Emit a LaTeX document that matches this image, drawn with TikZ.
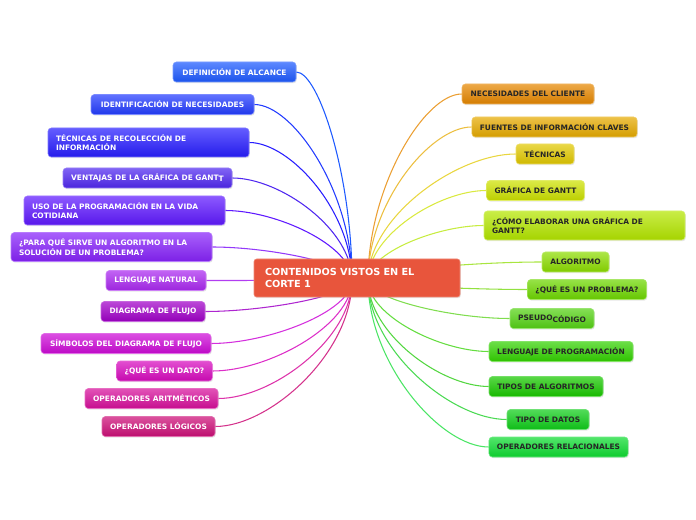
\documentclass[tikz,border=0pt]{standalone}
\usepackage{fontspec}
\setmainfont{DejaVu Sans}
\usetikzlibrary{calc,backgrounds,shadows}

% left branch colours
\definecolor{cDef}{RGB}{30,90,255}
\definecolor{cIde}{RGB}{35,60,255}
\definecolor{cTec}{RGB}{40,30,255}
\definecolor{cVen}{RGB}{80,40,240}
\definecolor{cUso}{RGB}{95,25,255}
\definecolor{cPar}{RGB}{135,35,250}
\definecolor{cLen}{RGB}{170,40,240}
\definecolor{cDia}{RGB}{160,0,200}
\definecolor{cSim}{RGB}{205,10,215}
\definecolor{cDat}{RGB}{215,10,190}
\definecolor{cAri}{RGB}{215,15,155}
\definecolor{cLog}{RGB}{205,15,120}
% right branch colours
\definecolor{cNec}{RGB}{230,135,0}
\definecolor{cFue}{RGB}{230,170,0}
\definecolor{cTcn}{RGB}{225,200,0}
\definecolor{cGan}{RGB}{205,225,0}
\definecolor{cCom}{RGB}{180,230,0}
\definecolor{cAlg}{RGB}{140,220,0}
\definecolor{cPro}{RGB}{110,215,0}
\definecolor{cPse}{RGB}{85,210,20}
\definecolor{cLpr}{RGB}{50,210,0}
\definecolor{cTal}{RGB}{25,200,0}
\definecolor{cTda}{RGB}{15,205,25}
\definecolor{cOre}{RGB}{15,220,50}
\definecolor{cMain}{RGB}{232,85,60}

\tikzset{every picture/.style={line width=0.75pt}}
\tikzset{
  box/.style={rounded corners=2.5pt, top color=#1!72!white, bottom color=#1!92!black,
    draw=#1!60!white, line width=0.4pt, inner xsep=6pt, inner ysep=0pt,
    minimum height=15pt, font=\bfseries\fontsize{5.6}{7}\selectfont,
    drop shadow={opacity=0.2, shadow xshift=0.6pt, shadow yshift=-0.9pt}},
  lbox/.style={box=#1, text=white},
  rbox/.style={box=#1, text=black!85},
  twoline/.style={minimum height=21.75pt, align=left},
  branch/.style={#1, line width=0.8pt,
    to path={.. controls ($(\tikztostart)!0.4!(\tikztostart -| \tikztotarget)$)
      and ($(\tikztotarget)!0.5!(\tikztotarget |- \tikztostart)$) .. (\tikztotarget)}}
}

\begin{document}
\begin{tikzpicture}[x=0.75pt,y=0.75pt,yscale=-1,xscale=1]
	\useasboundingbox (0,0) rectangle (696,520);
	\coordinate (lhub) at (352,280);
	\coordinate (rhub) at (368,280);

	% central topic
	\node [rounded corners=2pt, fill=cMain, draw=cMain!70!white, line width=0.5pt,
	  text=white, font=\bfseries\fontsize{7.3}{9.5}\selectfont, align=left,
	  text width=138pt, inner xsep=8.25pt, minimum height=28.5pt,
	  drop shadow={opacity=0.2, shadow xshift=0.6pt, shadow yshift=-0.9pt}]
	  (main) at (357,278) {CONTENIDOS VISTOS EN EL\\CORTE 1};

	% left side
	\node [lbox=cDef, minimum width=92.25pt] (defin) at (234.5,72) {DEFINICIÓN DE ALCANCE};
	\node [lbox=cIde, minimum width=122.25pt] (ident) at (172.5,104.5) {IDENTIFICACIÓN DE NECESIDADES};
	\node [lbox=cTec, twoline, text width=138.75pt] (tecrec) at (148.5,142.5) {TÉCNICAS DE RECOLECCIÓN DE\\INFORMACIÓN};
	\node [lbox=cVen, minimum width=126.75pt] (ventaj) at (147.5,178) {VENTAJAS DE LA GRÁFICA DE GANT\raisebox{-0.8pt}{T}};
	\node [lbox=cUso, twoline, text width=138.75pt] (usoprog) at (124.5,210.5) {USO DE LA PROGRAMACIÓN EN LA VIDA\\COTIDIANA};
	\node [lbox=cPar, twoline, text width=138.75pt] (paraque) at (111.5,247) {¿PARA QUÉ SIRVE UN ALGORITMO EN LA\\SOLUCIÓN DE UN PROBLEMA?};
	\node [lbox=cLen, minimum width=75pt] (lengnat) at (156,280.5) {LENGUAJE NATURAL};
	\node [lbox=cDia, minimum width=78pt] (diagfl) at (153,311.5) {DIAGRAMA DE FLUJO};
	\node [lbox=cSim, minimum width=127.5pt] (simbol) at (126,343.5) {SÍMBOLOS DEL DIAGRAMA DE FLUJO};
	\node [lbox=cDat, minimum width=71.25pt] (quedato) at (164.5,371) {¿QUÉ ES UN DATO?};
	\node [lbox=cAri, minimum width=99.75pt] (oparit) at (151.5,398.5) {OPERADORES ARITMÉTICOS};
	\node [lbox=cLog, minimum width=84.75pt] (oplog) at (158.5,426.5) {OPERADORES LÓGICOS};

	% right side
	\node [rbox=cNec, minimum width=99pt] (necli) at (528,94) {NECESIDADES DEL CLIENTE};
	\node [rbox=cFue, minimum width=123.75pt] (fuentes) at (554.5,127) {FUENTES DE INFORMACIÓN CLAVES};
	\node [rbox=cTcn, minimum width=43.5pt] (tecn) at (545,154) {TÉCNICAS};
	\node [rbox=cGan, minimum width=72.75pt] (gantt) at (535.5,190.5) {GRÁFICA DE GANTT};
	\node [rbox=cCom, twoline, text width=138.75pt] (comoelab) at (584.5,225.5) {¿CÓMO ELABORAR UNA GRÁFICA DE\\GANTT?};
	\node [rbox=cAlg, minimum width=50.25pt] (algor) at (575.5,262) {ALGORITMO};
	\node [rbox=cPro, minimum width=88.5pt] (queprob) at (587,289.5) {¿QUÉ ES UN PROBLEMA?};
	\node [rbox=cPse, minimum width=63pt] (pseudo) at (552,318.5) {PSEUDO\raisebox{-1.5pt}{CÓDIGO}};
	\node [rbox=cLpr, minimum width=108pt] (lengprog) at (561,351.5) {LENGUAJE DE PROGRAMACIÓN};
	\node [rbox=cTal, minimum width=85.5pt] (tiposalg) at (546,386.5) {TIPOS DE ALGORITMOS};
	\node [rbox=cTda, minimum width=61.5pt] (tipodat) at (548,419.5) {TIPO DE DATOS};
	\node [rbox=cOre, minimum width=104.25pt] (oprel) at (558.5,447) {OPERADORES RELACIONALES};

	% connectors
	\begin{scope}[on background layer]
	\draw [branch=cDef] (defin.east) to (lhub);
	\draw [branch=cIde] (ident.east) to (lhub);
	\draw [branch=cTec] (tecrec.east) to (lhub);
	\draw [branch=cVen] (ventaj.east) to (lhub);
	\draw [branch=cUso] (usoprog.east) to (lhub);
	\draw [branch=cPar!90!white] (paraque.east) to (lhub);
	\draw [branch=cLen!90!white] (lengnat.east) to (lhub);
	\draw [branch=cDia!85!white] (diagfl.east) to (lhub);
	\draw [branch=cSim!85!white] (simbol.east) to (lhub);
	\draw [branch=cDat!85!white] (quedato.east) to (lhub);
	\draw [branch=cAri!85!white] (oparit.east) to (lhub);
	\draw [branch=cLog!85!white] (oplog.east) to (lhub);
	\draw [branch=cNec!80!white] (necli.west) to (rhub);
	\draw [branch=cFue!75!white] (fuentes.west) to (rhub);
	\draw [branch=cTcn!75!white] (tecn.west) to (rhub);
	\draw [branch=cGan!75!white] (gantt.west) to (rhub);
	\draw [branch=cCom!75!white] (comoelab.west) to (rhub);
	\draw [branch=cAlg!75!white] (algor.west) to (rhub);
	\draw [branch=cPro!75!white] (queprob.west) to (rhub);
	\draw [branch=cPse!75!white] (pseudo.west) to (rhub);
	\draw [branch=cLpr!75!white] (lengprog.west) to (rhub);
	\draw [branch=cTal!75!white] (tiposalg.west) to (rhub);
	\draw [branch=cTda!75!white] (tipodat.west) to (rhub);
	\draw [branch=cOre!75!white] (oprel.west) to (rhub);
	\end{scope}
\end{tikzpicture}
\end{document}
